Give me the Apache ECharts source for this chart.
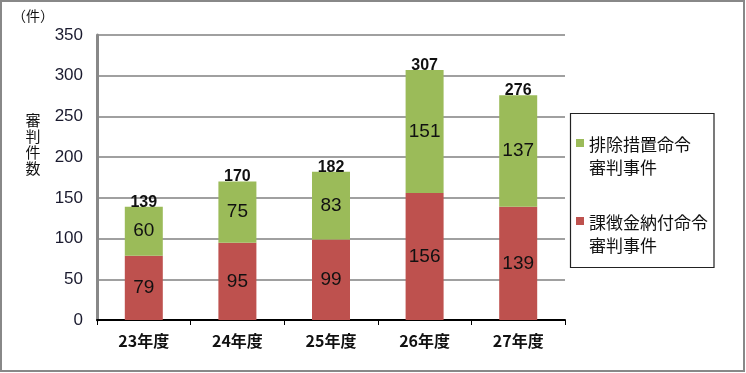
<!DOCTYPE html>
<html>
<head>
<meta charset="utf-8">
<script src="https://cdn.jsdelivr.net/npm/echarts@6/dist/echarts.min.js"></script>
<style>html,body{margin:0;padding:0;background:#fff}#c{width:746px;height:373px}</style>
</head>
<body>
<div id="c"></div>
<script>
const categories = ['23年度', '24年度', '25年度', '26年度', '27年度'];
const seriesNames = ['排除措置命令\n審判事件', '課徴金納付命令\n審判事件'];
const exclusionOrders = [60, 75, 83, 151, 137];
const surchargeOrders = [79, 95, 99, 156, 139];
const totals = [139, 170, 182, 307, 276];
const yTicks = { min: 0, max: 350, interval: 50 };

const chart = echarts.init(document.getElementById('c'), null, { renderer: 'canvas' });
const numFont = '"Liberation Sans", Arial, sans-serif';
const cjkFont = '"Noto Sans CJK JP", "Liberation Sans", sans-serif';
const legendIcon = 'path://M0,0L10,0L10,10L0,10Z M0,42.5L0.01,42.5Z';

chart.setOption({
  animation: false,
  backgroundColor: '#fff',
  grid: { left: 97, right: 181, top: 35, bottom: 53, containLabel: false },
  legend: {
    data: [seriesNames[0], seriesNames[1]],
    orient: 'vertical',
    left: 576,
    top: 133,
    padding: 0,
    itemGap: 32,
    itemWidth: 8,
    itemHeight: 34,
    icon: legendIcon,
    textStyle: { fontFamily: cjkFont, fontSize: 17, lineHeight: 23, color: '#111' }
  },
  xAxis: {
    type: 'category',
    data: categories,
    boundaryGap: true,
    axisLine: { show: true, lineStyle: { color: '#000', width: 2 } },
    axisTick: { show: true, alignWithLabel: false, length: 5, inside: false, lineStyle: { color: '#000', width: 1 } },
    axisLabel: { fontFamily: cjkFont, fontSize: 16, fontWeight: 'bold', color: '#111', margin: 13 }
  },
  yAxis: {
    type: 'value',
    min: yTicks.min,
    max: yTicks.max,
    interval: yTicks.interval,
    axisLine: { show: true, lineStyle: { color: '#888', width: 3 } },
    axisTick: { show: false },
    splitLine: { show: true, lineStyle: { color: '#a0a0a0', width: 2 } },
    axisLabel: { fontFamily: numFont, fontSize: 17, color: '#1a1a2e', margin: 14 }
  },
  series: [
    {
      name: seriesNames[1],
      type: 'bar',
      stack: 'total',
      barWidth: 38,
      data: surchargeOrders,
      itemStyle: { color: '#BE514E' },
      label: { show: true, position: 'inside', fontFamily: numFont, fontSize: 19, color: '#111' }
    },
    {
      name: seriesNames[0],
      type: 'bar',
      stack: 'total',
      barWidth: 38,
      data: exclusionOrders,
      itemStyle: { color: '#9BBB59' },
      label: { show: true, position: 'inside', fontFamily: numFont, fontSize: 19, color: '#111' }
    },
    {
      name: '合計',
      type: 'line',
      data: totals,
      symbol: 'circle',
      symbolSize: 1,
      showSymbol: true,
      itemStyle: { color: 'rgba(0,0,0,0)' },
      lineStyle: { opacity: 0 },
      silent: true,
      z: 10,
      label: { show: true, position: 'top', distance: -4, fontFamily: numFont, fontSize: 16, fontWeight: 'bold', color: '#111' }
    }
  ],
  graphic: [
    { type: 'rect', shape: { x: 1, y: 1, width: 743, height: 370 }, style: { fill: 'none', stroke: '#888', lineWidth: 2 }, silent: true },
    { type: 'rect', shape: { x: 570.5, y: 113.5, width: 143.5, height: 154 }, style: { fill: 'none', stroke: '#222', lineWidth: 1.2 }, silent: true },
    { type: 'text', left: 12, top: 9, style: { text: '（件）', font: '14px "Noto Sans CJK JP", sans-serif', fill: '#111' } },
    { type: 'text', x: 33, y: 144, style: { text: '審\n判\n件\n数', font: '15px "Noto Sans CJK JP", sans-serif', lineHeight: 16, fill: '#111', align: 'center', verticalAlign: 'middle' } }
  ]
});
</script>
</body>
</html>
